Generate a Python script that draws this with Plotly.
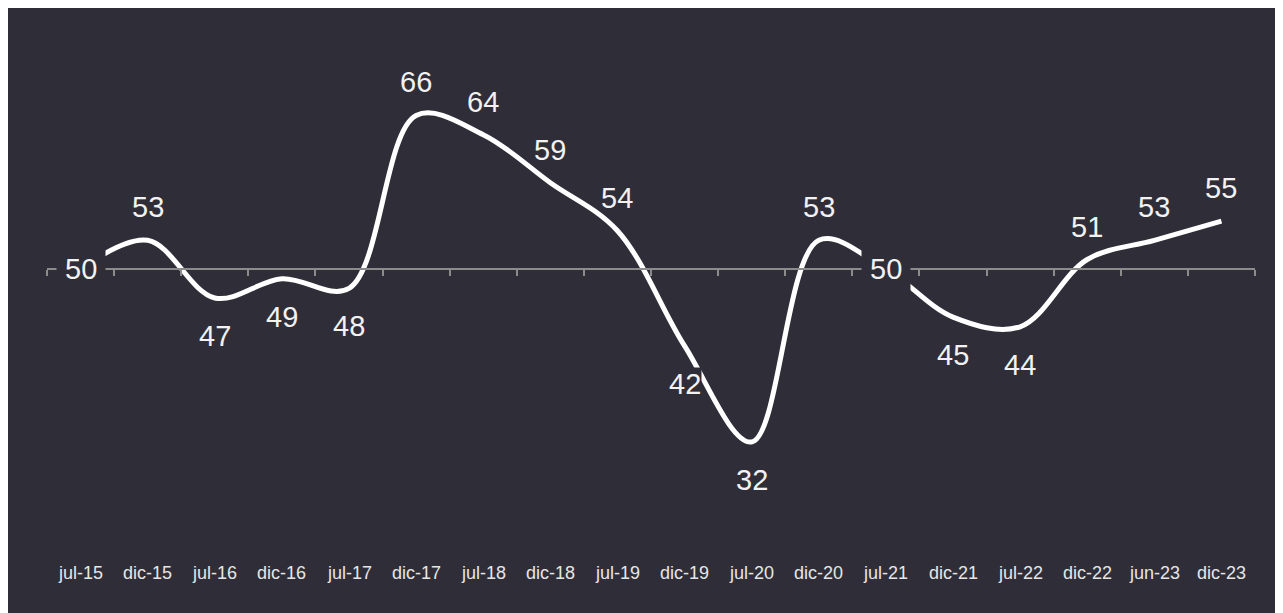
import plotly.graph_objects as go

categories = ["jul-15", "dic-15", "jul-16", "dic-16", "jul-17", "dic-17", "jul-18", "dic-18",
              "jul-19", "dic-19", "jul-20", "dic-20", "jul-21", "dic-21", "jul-22", "dic-22",
              "jun-23", "dic-23"]
values = [50, 53, 47, 49, 48, 66, 64, 59, 54, 42, 32, 53, 50, 45, 44, 51, 53, 55]
label_pos = ["center", "above", "below", "below", "below", "above", "above", "above",
             "above", "below", "below", "above", "center", "below", "below", "above",
             "above", "above"]

BG = "#2F2E38"
W, H = 1283, 613
ML, MR, MT, MB = 39, 36, 45, 154
YMIN, YMAX = 29.4, 72.5
AXIS_AT = 50

fig = go.Figure()
fig.add_trace(go.Scatter(
    x=categories, y=values, mode="lines",
    line=dict(color="white", width=5, shape="spline", smoothing=1.0),
    hoverinfo="skip", showlegend=False,
))

annotations = []
for i, (c, v, pos) in enumerate(zip(categories, values, label_pos)):
    shift = {"center": 0, "above": 33, "below": -38}[pos]
    pad = 8 if pos == "center" else 0
    bg = BG if (pos == "center" or v == 42) else "rgba(0,0,0,0)"
    annotations.append(dict(
        x=c, y=v, xref="x", yref="y", text=str(v), showarrow=False,
        yshift=shift, font=dict(family="Liberation Sans, Arial", size=29, color="#F2F2F2"),
        bgcolor=bg, borderpad=pad,
    ))

plot_h = H - MT - MB
cat_y = (H - MB - 565) / plot_h
for c in categories:
    annotations.append(dict(
        x=c, y=cat_y, xref="x", yref="paper", text=c, showarrow=False,
        yanchor="middle", font=dict(family="Liberation Sans, Arial", size=18, color="#E6E6E6"),
    ))

axis_pos = (AXIS_AT - YMIN) / (YMAX - YMIN)

fig.update_layout(
    width=W, height=H,
    margin=dict(l=ML, r=MR, t=MT, b=MB),
    paper_bgcolor=BG, plot_bgcolor=BG,
    showlegend=False,
    annotations=annotations,
    xaxis=dict(
        type="category",
        range=[-0.5, len(categories) - 0.5],
        showticklabels=False, showgrid=False, zeroline=False,
        showline=True, linecolor="#8C8C8C", linewidth=1.5,
        ticks="outside", tickson="boundaries", ticklen=6, tickcolor="#8C8C8C", tickwidth=1.5,
        anchor="free", position=axis_pos,
    ),
    yaxis=dict(range=[YMIN, YMAX], visible=False, showgrid=False, zeroline=False),
)

fig.write_html("out.html")
